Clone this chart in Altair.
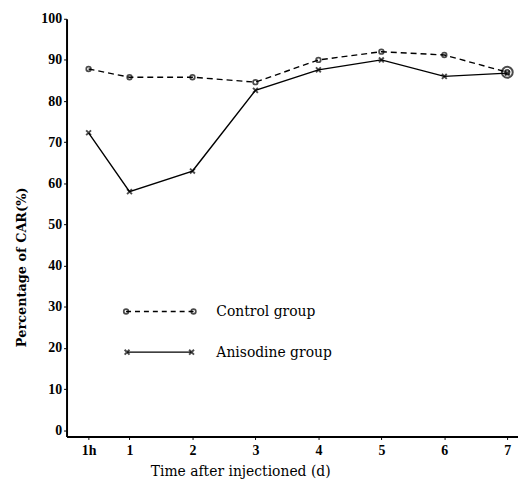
import altair as alt
import pandas as pd

# ---- data ----
time_labels = ["1h", "1", "2", "3", "4", "5", "6", "7"]
time_pos = [0.35, 1, 2, 3, 4, 5, 6, 7]          # position of each time point on the day axis
control = [87.8, 85.8, 85.8, 84.6, 90.0, 92.0, 91.2, 87.0]
anisodine = [72.3, 58.0, 63.0, 82.6, 87.6, 90.0, 86.0, 86.8]
y_ticks = [0, 10, 20, 30, 40, 50, 60, 70, 80, 90, 100]

FONT = "Liberation Serif"
TFONT = "DejaVu Serif"

df = pd.DataFrame(
    {
        "t": time_pos * 2,
        "label": time_labels * 2,
        "value": control + anisodine,
        "group": ["Control group"] * len(control) + ["Anisodine group"] * len(anisodine),
    }
)
ctrl = df[df["group"] == "Control group"]
anis = df[df["group"] == "Anisodine group"]

x_scale = alt.Scale(domain=[0, 7.17], nice=False, zero=False)
y_scale = alt.Scale(domain=[-1.5, 100], nice=False, zero=False)

x_enc = alt.X(
    "t:Q",
    scale=x_scale,
    axis=alt.Axis(
        values=time_pos,
        labelExpr="datum.value == 0.35 ? '1h' : format(datum.value, 'd')",
        title="Time after injectioned (d)",
        titleFont=TFONT,
        titleFontSize=14,
        titleFontWeight="normal",
        titleX=175,
        titleY=35,
        titleAlign="center",
        titleBaseline="middle",
        labelFont=FONT,
        labelFontSize=14,
        labelFontWeight="bold",
        labelPadding=4,
        tickSize=3,
        tickColor="black",
        domainColor="black",
        domainWidth=2,
        labelColor="black",
        grid=False,
    ),
)
y_enc = alt.Y(
    "value:Q",
    scale=y_scale,
    axis=alt.Axis(
        values=y_ticks,
        title="Percentage of CAR(%)",
        titleFont=TFONT,
        titleFontSize=13,
        titleFontWeight="bold",
        titleAngle=270,
        titleX=-45,
        titleY=250,
        titleAlign="center",
        titleBaseline="middle",
        labelFont=FONT,
        labelFontSize=14,
        labelFontWeight="bold",
        labelPadding=2,
        tickSize=3,
        tickColor="black",
        domainColor="black",
        domainWidth=2,
        labelColor="black",
        grid=False,
    ),
)

xmark = "M-1,-1L1,1M1,-1L-1,1"

ctrl_line = alt.Chart(ctrl).mark_line(
    color="black", strokeWidth=1.4, strokeDash=[6, 4]
).encode(x=x_enc, y=y_enc)
ctrl_pts = alt.Chart(ctrl).mark_point(
    shape="circle", size=22, color="black", strokeWidth=1.7, filled=False
).encode(x="t:Q", y="value:Q")
ctrl_last = alt.Chart(ctrl.tail(1)).mark_point(
    shape="circle", size=120, color="black", strokeWidth=2, filled=False
).encode(x="t:Q", y="value:Q")

anis_line = alt.Chart(anis).mark_line(color="black", strokeWidth=1.4).encode(
    x="t:Q", y="value:Q"
)
anis_pts = alt.Chart(anis).mark_point(
    shape=xmark, size=24, color="black", strokeWidth=1.9, filled=False
).encode(x="t:Q", y="value:Q")

# ---- hand-drawn legend inside the plot ----
leg = pd.DataFrame({"group": ["Control group", "Anisodine group"]})
leg_c = leg.iloc[[0]]
leg_a = leg.iloc[[1]]

lc_line = alt.Chart(leg_c).mark_rule(color="black", strokeWidth=1.4, strokeDash=[5, 4]).encode(
    x=alt.value(60), x2=alt.value(128), y=alt.value(295)
)
lc_p1 = alt.Chart(leg_c).mark_point(shape="circle", size=22, color="black", strokeWidth=1.7).encode(
    x=alt.value(60), y=alt.value(295)
)
lc_p2 = alt.Chart(leg_c).mark_point(shape="circle", size=22, color="black", strokeWidth=1.7).encode(
    x=alt.value(128), y=alt.value(295)
)
lc_txt = alt.Chart(leg_c).mark_text(
    align="left", baseline="middle", font=TFONT, fontSize=14, color="black"
).encode(x=alt.value(151), y=alt.value(296), text="group:N")

la_line = alt.Chart(leg_a).mark_rule(color="black", strokeWidth=1.4).encode(
    x=alt.value(61), x2=alt.value(126), y=alt.value(336)
)
la_p1 = alt.Chart(leg_a).mark_point(shape=xmark, size=24, color="black", strokeWidth=1.9).encode(
    x=alt.value(61), y=alt.value(336)
)
la_p2 = alt.Chart(leg_a).mark_point(shape=xmark, size=24, color="black", strokeWidth=1.9).encode(
    x=alt.value(126), y=alt.value(336)
)
la_txt = alt.Chart(leg_a).mark_text(
    align="left", baseline="middle", font=TFONT, fontSize=14, color="black"
).encode(x=alt.value(151), y=alt.value(337), text="group:N")

chart = (
    alt.layer(
        ctrl_line, ctrl_pts, ctrl_last, anis_line, anis_pts,
        lc_line, lc_p1, lc_p2, lc_txt, la_line, la_p1, la_p2, la_txt,
    )
    .properties(
        width=455,
        height=421,
        autosize=alt.AutoSizeParams(type="none"),
        padding={"left": 59, "top": 9, "right": 0, "bottom": 45},
        background="white",
    )
    .configure_view(stroke=None)
)

chart.save("out.html", embed_options={"renderer": "svg", "actions": False})
